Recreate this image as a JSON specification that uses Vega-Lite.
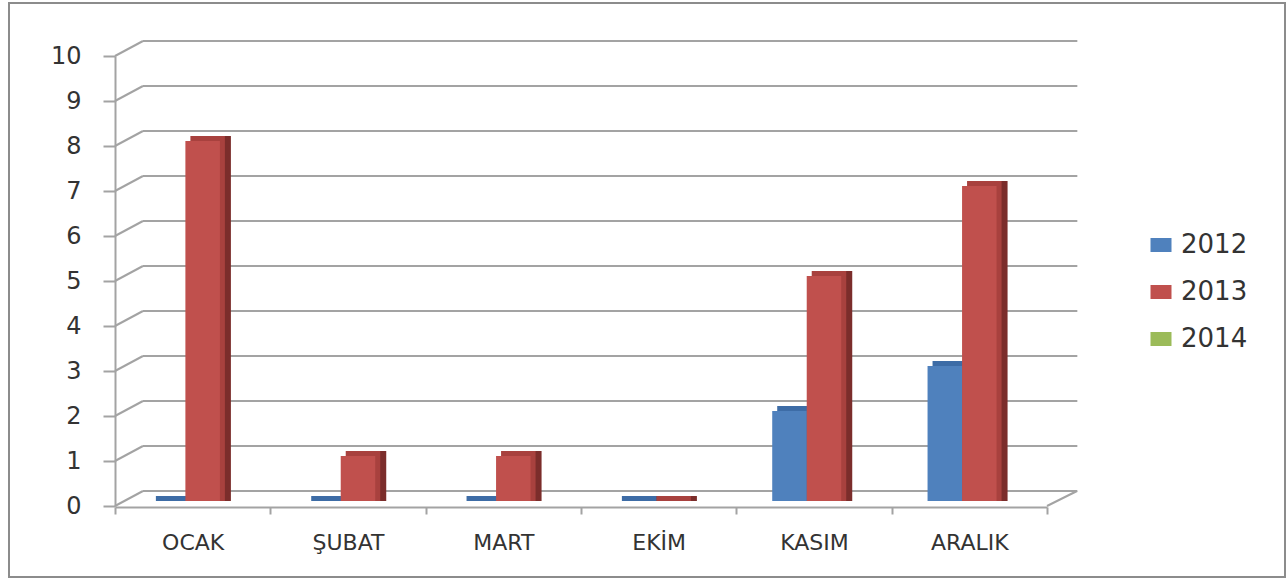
{
  "$schema": "https://vega.github.io/schema/vega-lite/v6.json",
  "width": 1276,
  "height": 574,
  "autosize": "none",
  "padding": {"left": 9, "top": 3, "right": 3, "bottom": 1},
  "config": {
    "font": "DejaVu Sans",
    "view": {"stroke": "#8c8c8c", "strokeWidth": 2},
    "axisX": {"orient": "bottom", "offset": -70, "title": null, "labelAngle": 0,
      "tickBand": "extent", "tickSize": 7, "tickWidth": 2, "tickColor": "#a3a3a3",
      "domainColor": "#a3a3a3", "domainWidth": 2, "grid": false,
      "labelFontSize": 22, "labelColor": "#333333", "labelPadding": 18},
    "axisY": {"orient": "left", "offset": -106, "title": null, "grid": false, "tickCount": 10,
      "tickSize": 12, "tickWidth": 2, "tickColor": "#a3a3a3",
      "domainColor": "#a3a3a3", "domainWidth": 2,
      "labelFontSize": 24, "labelColor": "#333333", "labelPadding": 22}
  },
  "datasets": {
    "sales": [
      {"month": "OCAK", "year": "2012", "count": 0},
      {"month": "OCAK", "year": "2013", "count": 8},
      {"month": "ŞUBAT", "year": "2012", "count": 0},
      {"month": "ŞUBAT", "year": "2013", "count": 1},
      {"month": "MART", "year": "2012", "count": 0},
      {"month": "MART", "year": "2013", "count": 1},
      {"month": "EKİM", "year": "2012", "count": 0},
      {"month": "EKİM", "year": "2013", "count": 0},
      {"month": "KASIM", "year": "2012", "count": 2},
      {"month": "KASIM", "year": "2013", "count": 5},
      {"month": "ARALIK", "year": "2012", "count": 3},
      {"month": "ARALIK", "year": "2013", "count": 7}
    ],
    "levels": [
      {"v": 0}, {"v": 1}, {"v": 2}, {"v": 3}, {"v": 4}, {"v": 5},
      {"v": 6}, {"v": 7}, {"v": 8}, {"v": 9}, {"v": 10}
    ]
  },
  "layer": [
    {
      "description": "back wall gridlines",
      "data": {"name": "levels"},
      "mark": {"type": "rule", "color": "#a3a3a3", "strokeWidth": 2, "xOffset": 28, "x2Offset": 108, "yOffset": -15, "y2Offset": -15},
      "encoding": {
        "x": {"datum": "OCAK", "type": "nominal", "bandPosition": 0,
          "scale": {"domain": ["OCAK", "ŞUBAT", "MART", "EKİM", "KASIM", "ARALIK"], "range": [106, 1038], "paddingInner": 0, "paddingOuter": 0}},
        "x2": {"datum": "ARALIK"},
        "y": {"field": "v", "type": "quantitative", "scale": {"domain": [0, 10], "range": [503, 53], "nice": false, "zero": true}}
      }
    },
    {
      "description": "side wall connectors",
      "data": {"name": "levels"},
      "mark": {"type": "rule", "color": "#a3a3a3", "strokeWidth": 2, "x2Offset": -49.7, "y2Offset": -15},
      "encoding": {
        "x": {"datum": "OCAK", "type": "nominal", "bandPosition": 0},
        "x2": {"datum": "OCAK"},
        "y": {"field": "v", "type": "quantitative"},
        "y2": {"field": "v"}
      }
    },
    {
      "description": "floor edge on the right",
      "data": {"name": "levels"},
      "transform": [{"filter": "datum.v == 0"}],
      "mark": {"type": "rule", "color": "#a3a3a3", "strokeWidth": 2, "x2Offset": 107.7, "y2Offset": -15},
      "encoding": {
        "x": {"datum": "ARALIK", "type": "nominal", "bandPosition": 1},
        "x2": {"datum": "ARALIK"},
        "y": {"field": "v", "type": "quantitative"},
        "y2": {"field": "v"}
      }
    },
    {
      "description": "bar side faces",
      "data": {"name": "sales"},
      "mark": {"type": "bar", "yOffset": -10, "y2Offset": -5},
      "encoding": {
        "x": {"field": "month", "type": "nominal", "sort": null},
        "xOffset": {"field": "year", "type": "nominal", "scale": {"domain": ["2012", "2013", "2014"], "range": [21, 176.3], "paddingInner": 0, "paddingOuter": 0.75}},
        "y": {"field": "count", "type": "quantitative"},
        "y2": {"datum": 0},
        "color": {"field": "year", "type": "nominal", "legend": null,
          "scale": {"domain": ["2012", "2013", "2014"], "range": ["#315887", "#7b2d2b", "#66803a"]}}
      }
    },
    {
      "description": "bar top faces",
      "data": {"name": "sales"},
      "mark": {"type": "bar", "yOffset": -10, "y2Offset": -5},
      "encoding": {
        "x": {"field": "month", "type": "nominal", "sort": null},
        "xOffset": {"field": "year", "type": "nominal", "scale": {"domain": ["2012", "2013", "2014"], "range": [15, 170.3], "paddingInner": 0, "paddingOuter": 0.75}},
        "y": {"field": "count", "type": "quantitative"},
        "y2": {"datum": 0},
        "color": {"field": "year", "type": "nominal", "legend": null,
          "scale": {"domain": ["2012", "2013", "2014"], "range": ["#3d6ca6", "#a8413e", "#8aa84d"]}}
      }
    },
    {
      "description": "bar front faces",
      "data": {"name": "sales"},
      "mark": {"type": "bar", "yOffset": -5, "y2Offset": -5},
      "encoding": {
        "x": {"field": "month", "type": "nominal", "sort": null},
        "xOffset": {"field": "year", "type": "nominal", "scale": {"domain": ["2012", "2013", "2014"], "range": [10, 165.3], "paddingInner": 0, "paddingOuter": 0.75}},
        "y": {"field": "count", "type": "quantitative"},
        "y2": {"datum": 0},
        "color": {"field": "year", "type": "nominal",
          "scale": {"domain": ["2012", "2013", "2014"], "range": ["#4f81bd", "#c0504d", "#9bbb59"]},
          "legend": {"title": null, "orient": "none", "legendX": 1139, "legendY": 229, "padding": 0,
            "symbolType": "M-1.5,-1H1.5V1H-1.5Z", "symbolSize": 196, "symbolStrokeWidth": 0,
            "labelFontSize": 26, "labelColor": "#333333", "labelOffset": 7, "rowPadding": 21}}
      }
    }
  ],
  "resolve": {"scale": {"color": "independent", "xOffset": "independent"}}
}
